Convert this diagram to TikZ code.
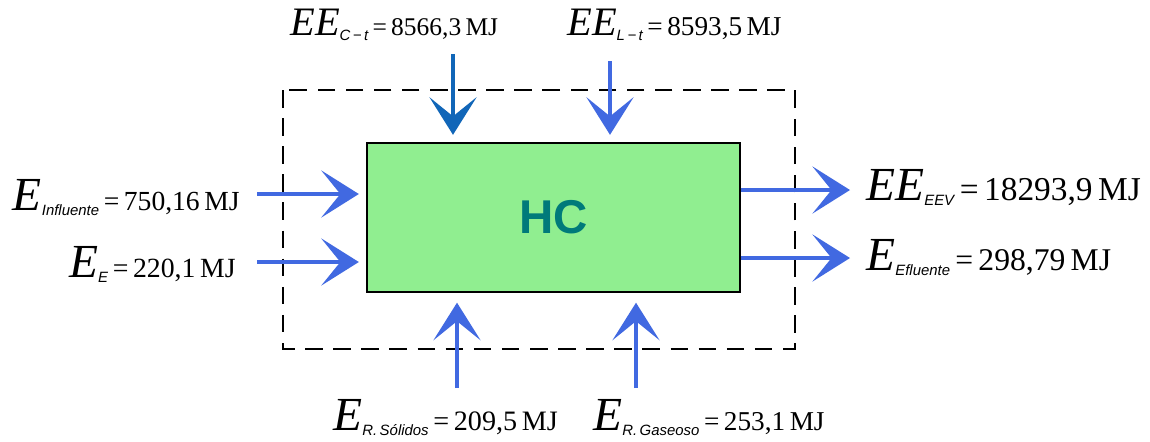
\documentclass[tikz,border=0pt]{standalone}
\usepackage{fontspec}
\setmainfont{Liberation Serif}
\newfontfamily\subsf{Liberation Sans}
\usepackage{tikz}
\usetikzlibrary{arrows.meta}
\definecolor{royal}{HTML}{4169E1}
\definecolor{royaldark}{HTML}{1166B8}
\definecolor{hcfill}{HTML}{90EE90}
\definecolor{hctext}{HTML}{007A7A}
% E size, value size, symbol, subscript, value in MJ
\newcommand{\elab}[5]{{\fontsize{#1}{#1}\selectfont\itshape #3}\raisebox{-3pt}{\fontsize{8.5}{8.5}\selectfont\subsf\itshape #4}{\fontsize{#2}{#2}\selectfont\,=\,#5\,MJ}}

\begin{document}
\begin{tikzpicture}[x=0.02cm, y=-0.02cm, every node/.style={inner sep=0pt},
  flow/.style={line width=2.8pt, royal, shorten >=1.5mm, -{Stealth[length=7.5mm 0, width=9.4mm 0, inset=3.8mm 0]}},
  hcbox/.style={draw, line width=0.8pt, fill=hcfill, minimum width=7.46cm, minimum height=2.98cm, font=\subsf\bfseries\fontsize{27}{27}\selectfont, text=hctext}]
\useasboundingbox (0,0) rectangle (1150,441);
\fill[white] (0,0) rectangle (1150,441);
% system boundary
\draw[line width=1.1pt, dash pattern=on 10pt off 6pt] (283,90) rectangle (795,349);
\node[hcbox] (hc) at (553.5,217.5) {HC};

% labels
\node[anchor=base west] (ect) at (290,35) {\elab{23}{14.5}{EE}{C\,−\,t}{8566,3}};
\node[anchor=base west] (elt) at (567,35) {\elab{23}{15.5}{EE}{L\,−\,t}{8593,5}};
\node[anchor=base east] (einf) at (240,210) {\elab{27}{15.7}{E}{Influente}{750,16}};
\node[anchor=base east] (ee) at (236,277) {\elab{27}{15.8}{E}{E}{220,1}};
\node[anchor=base west] (eeev) at (866,200) {\elab{27}{19}{EE}{EEV}{18293,9}};
\node[anchor=base west] (eefl) at (866,270) {\elab{27}{18}{E}{Efluente}{298,79}};
\node[anchor=base west] (ers) at (333,430) {\elab{27}{16}{E}{R.\,Sólidos}{209,5}};
\node[anchor=base west] (erg) at (593,430) {\elab{27}{15.5}{E}{R.\,Gaseoso}{253,1}};

% arrow ends
\coordinate (ctin) at (453,54);
\coordinate (ltin) at (610,61);
\coordinate (infin) at (257,194);
\coordinate (ein) at (257,262);
\coordinate (eevout) at (850,190);
\coordinate (eflout) at (850,258);
\coordinate (rsin) at (457,388);
\coordinate (rgin) at (636,388);

\draw[flow, royaldark] (ctin) -- (ctin |- hc.north);
\draw[flow] (ltin) -- (ltin |- hc.north);
\draw[flow] (infin) -- (infin -| hc.west);
\draw[flow] (ein) -- (ein -| hc.west);
\draw[flow, shorten >=0pt] (eevout -| hc.east) -- (eevout);
\draw[flow, shorten >=0pt] (eflout -| hc.east) -- (eflout);
\draw[flow, shorten >=2mm] (rsin) -- (rsin |- hc.south);
\draw[flow, shorten >=2mm] (rgin) -- (rgin |- hc.south);
\end{tikzpicture}
\end{document}
